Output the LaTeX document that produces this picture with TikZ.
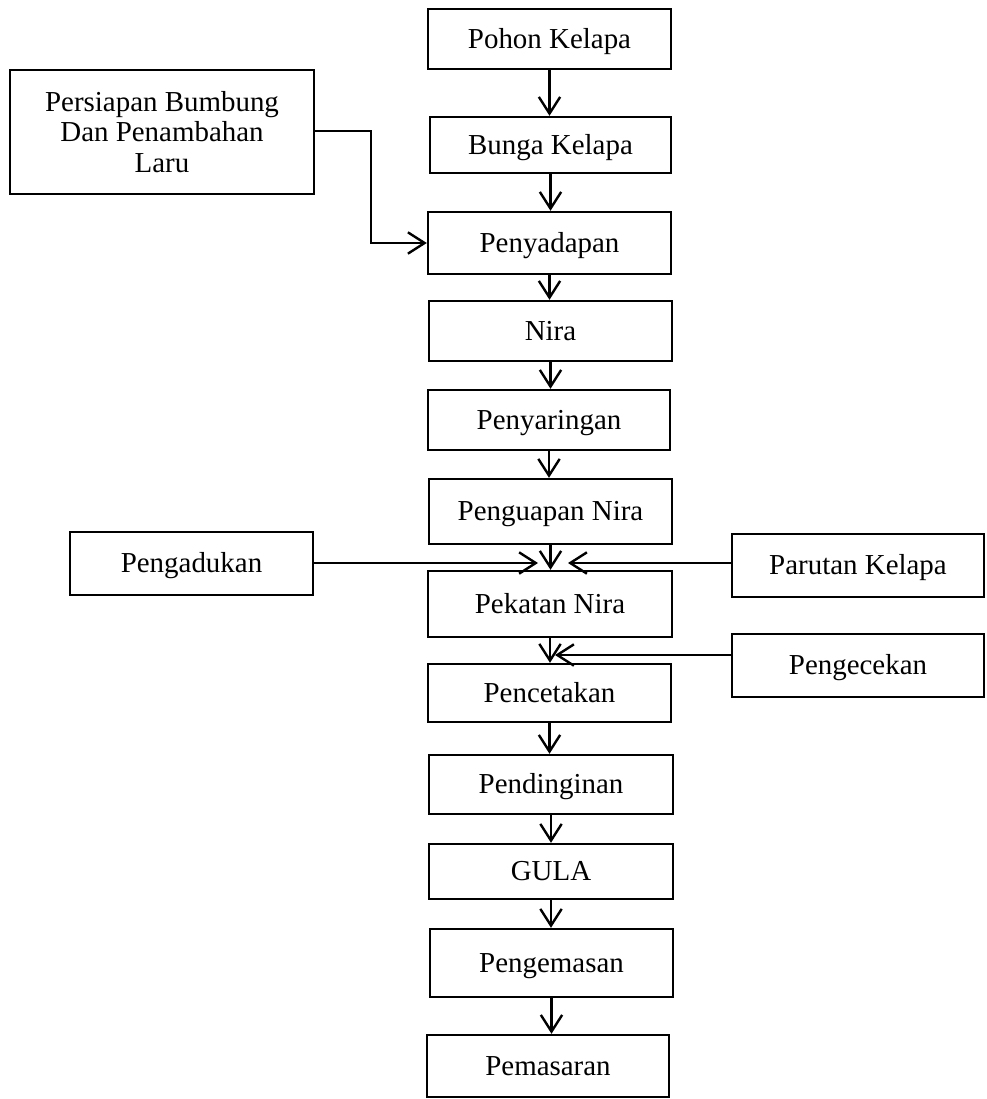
\documentclass[tikz,border=0pt]{standalone}
\usepackage{fontspec}
\setmainfont{Liberation Serif}
\usetikzlibrary{arrows.meta}
\begin{document}
\begin{tikzpicture}[
  x=0.75pt, y=-0.75pt,
  box/.style n args={2}{draw, line width=1.8pt, inner sep=0pt, align=center,
    minimum width=#1*0.75pt, minimum height=#2*0.75pt,
    font=\fontsize{21.7}{23}\selectfont},
  proc/.style n args={2}{box={#1}{#2}, text height=18pt, text depth=4pt},
  arr/.style={line width=1.8pt,
    -{Straight Barb[length=12.5pt, width=16pt, line width=1.8pt]}}
  ]
  \useasboundingbox (0,0) rectangle (986,1099);
  % main column
  \node[proc={243}{60}] (pohon)  at (549.5,39)   {Pohon Kelapa};
  \node[proc={241}{56}] (bunga)  at (550.5,145)  {Bunga Kelapa};
  \node[proc={243}{62}] (sadap)  at (549.5,243)  {Penyadapan};
  \node[proc={243}{60}] (nira)   at (550.5,331)  {Nira};
  \node[proc={242}{60}] (saring) at (549,420)    {Penyaringan};
  \node[proc={243}{65}] (uap)    at (550.5,511.5){Penguapan Nira};
  \node[proc={244}{66}] (pekat)  at (550,604)    {Pekatan Nira};
  \node[proc={243}{58}] (cetak)  at (549.5,693)  {Pencetakan};
  \node[proc={244}{59}] (dingin) at (551,784.5)  {Pendinginan};
  \node[proc={244}{55}] (gula)   at (551,871.5)  {GULA};
  \node[proc={243}{68}] (kemas)  at (551.5,963)  {Pengemasan};
  \node[proc={242}{62}] (pasar)  at (548,1066)   {Pemasaran};
  % side inputs
  \node[box={304}{124}] (bumbung) at (162,132)
    {Persiapan Bumbung\\Dan Penambahan\\Laru};
  \node[proc={243}{63}] (aduk)  at (191.5,563.5) {Pengadukan};
  \node[proc={252}{63}] (parut) at (858,565.5)   {Parutan Kelapa};
  \node[proc={252}{63}] (cek)   at (858,665.5)   {Pengecekan};
  \coordinate (adukend) at (538,563);
  \coordinate (parutend) at (568,563);
  \coordinate (cekend) at (555,655);

  % main flow
  \draw[arr] (pohon.south)  -- (pohon.south |- bunga.north);
  \draw[arr] (bunga.south)  -- (bunga.south |- sadap.north);
  \draw[arr] (sadap.south)  -- (sadap.south |- nira.north);
  \draw[arr] (nira.south)   -- (nira.south |- saring.north);
  \draw[arr] (saring.south) -- (saring.south |- uap.north);
  \draw[arr] (uap.south)    -- (uap.south |- pekat.north);
  \draw[arr] (pekat.south)  -- (pekat.south |- cetak.north);
  \draw[arr] (cetak.south)  -- (cetak.south |- dingin.north);
  \draw[arr] (dingin.south) -- (dingin.south |- gula.north);
  \draw[arr] (gula.south)   -- (gula.south |- kemas.north);
  \draw[arr] (kemas.south)  -- (kemas.south |- pasar.north);
  % side flows
  \draw[arr] (bumbung.east |- 0,131) -- ++(56,0) |- (sadap.west);
  \draw[arr] (aduk.east |- adukend) -- (adukend);
  \draw[arr] (parut.west |- parutend) -- (parutend);
  \draw[arr] (cek.west |- cekend) -- (cekend);
\end{tikzpicture}
\end{document}
